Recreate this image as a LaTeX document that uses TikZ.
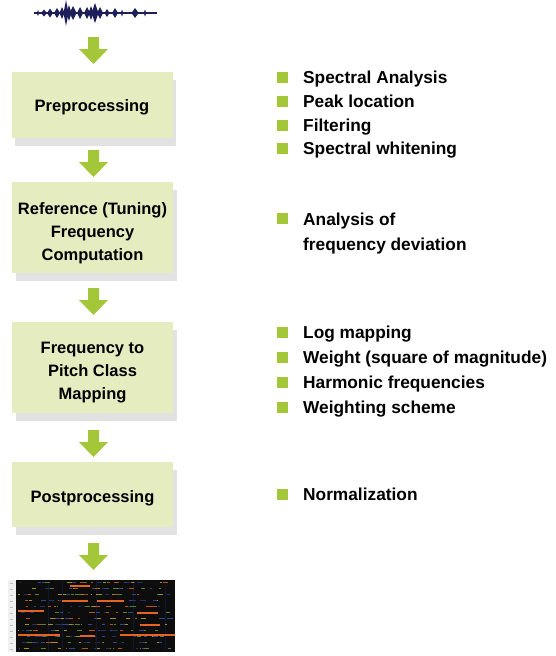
\documentclass[tikz,border=0pt]{standalone}
\usepackage{fontspec}
\setmainfont{Liberation Sans}
\usetikzlibrary{shadows}
\definecolor{boxfill}{RGB}{229,237,192}
\definecolor{shadowgray}{RGB}{226,226,226}
\definecolor{agreen}{RGB}{164,198,57}
\definecolor{wave}{RGB}{30,30,90}
\definecolor{chorange}{RGB}{230,100,35}
\definecolor{chgreen}{RGB}{110,160,55}
\definecolor{chblue}{RGB}{45,70,140}
\definecolor{chyellow}{RGB}{200,180,55}
\tikzset{
  x=1pt, y=-1pt,
  stepbox/.style={draw=none, fill=boxfill, minimum width=161pt, inner sep=0pt,
    general shadow={fill=shadowgray, shadow xshift=3.5pt, shadow yshift=-7.5pt}},
  steptext/.style={align=center, inner sep=0pt, font=\fontsize{16.5}{23}\selectfont\bfseries},
  item/.style={anchor=west, inner sep=0pt, align=left, text height=12pt, text depth=0pt,
    font=\fontsize{17.3}{25}\selectfont\bfseries},
  bul/.style={fill=agreen, minimum size=11pt, inner sep=0pt},
  blockarrow/.pic={\fill[agreen] (-5.5,0) -- (5.5,0) -- (5.5,12) -- (14.5,12) -- (0,27) -- (-14.5,12) -- (-5.5,12) -- cycle;}
}
\begin{document}
\begin{tikzpicture}
\useasboundingbox (0,0) rectangle (556,656);
% waveform
\coordinate (wl) at (34,13);
\coordinate (wr) at (157,13);
\draw[wave, line width=1.5pt] (wl) -- (wr);
\foreach \px/\h/\w in {38/3/1.2, 44/3.5/3, 50/4.5/3, 57/5/3, 62/6/2.5, 66/13/2.5, 69/8/2.5, 73/7/3.5, 80/6/3, 87/6/3, 91/7/2.5, 95/10/3.5, 100/6/3, 107/4/2.5, 115/5/3, 122/3.5/1.2, 135/5/3.5, 145/3.5/1.2}{
  \fill[wave] (\px-\w,13) -- (\px,13-\h) -- (\px+\w,13) -- (\px,13+\h) -- cycle;
}
% boxes
\node[stepbox, minimum height=66pt] (pre) at (92,105) {};
\node[steptext] (pret) at ([yshift=-2pt]pre.center) {Preprocessing};
\node[stepbox, minimum height=91pt] (ref) at (92.5,227.5) {};
\node[steptext] (reft) at ([yshift=-6pt]ref.center) {Reference (Tuning)\\Frequency\\Computation};
\node[stepbox, minimum height=91pt] (freq) at (92.5,367.5) {};
\node[steptext] (freqt) at ([yshift=-5pt]freq.center) {Frequency to\\Pitch Class\\Mapping};
\node[stepbox, minimum height=65pt] (post) at (92.5,494.5) {};
\node[steptext] (postt) at ([yshift=-4pt]post.center) {Postprocessing};
% arrows
\pic at (93.5,37) {blockarrow};
\pic at (93.5,150) {blockarrow};
\pic at (93.5,288) {blockarrow};
\pic at (93.5,430) {blockarrow};
\pic at (93.5,543) {blockarrow};
% chromagram
\fill[gray!12] (8,580) rectangle (16,652);
\foreach \k in {0,...,11}{\fill[gray!50] (10,583+6*\k) rectangle (13,584+6*\k);}
\fill[black!95] (16,580) rectangle (175,652);
\foreach \vx in {48,62,96,133,165}{\fill[chblue!35!black] (\vx,581) rectangle ++(1.2,70);}
\pgfmathsetseed{7}
\foreach \i in {1,...,300}{
  \pgfmathsetmacro{\rx}{17+152*rnd}
  \pgfmathtruncatemacro{\rr}{int(12*rnd)}
  \pgfmathsetmacro{\ry}{582+6*\rr}
  \pgfmathsetmacro{\rl}{1+5*rnd}
  \pgfmathtruncatemacro{\rc}{int(5*rnd)}
  \ifcase\rc \def\cc{chorange!80!black}\or\def\cc{chgreen!80!black}\or\def\cc{chblue}\or\def\cc{chyellow!80!black}\else\def\cc{chblue!70!black}\fi
  \fill[\cc] (\rx,\ry) rectangle ++(\rl,1.3);
}
\foreach \ax/\bx/\ay in {62/88/600, 97/124/600, 18/44/610, 137/158/612, 18/60/634, 80/95/635, 120/175/634, 70/90/585, 140/160/624}{
  \fill[chorange] (\ax,\ay) rectangle (\bx,\ay+1.6);
}
% bullet lists
\foreach \yy/\tt in {77/Spectral Analysis, 101/Peak location, 125/Filtering, 148/Spectral whitening,
  332/Log mapping, 357/Weight (square of magnitude), 382/Harmonic frequencies, 407/Weighting scheme,
  494/Normalization}{
  \node[bul] (b\yy) at (282.5,\yy) {};
  \node[item] (t\yy) at (303,\yy) {\tt};
}
\node[bul] (b219) at (282.5,218) {};
\node[item] (t219) at (303,219) {Analysis of};
\node[item] (t244) at (303,244) {frequency deviation};
\end{tikzpicture}
\end{document}
